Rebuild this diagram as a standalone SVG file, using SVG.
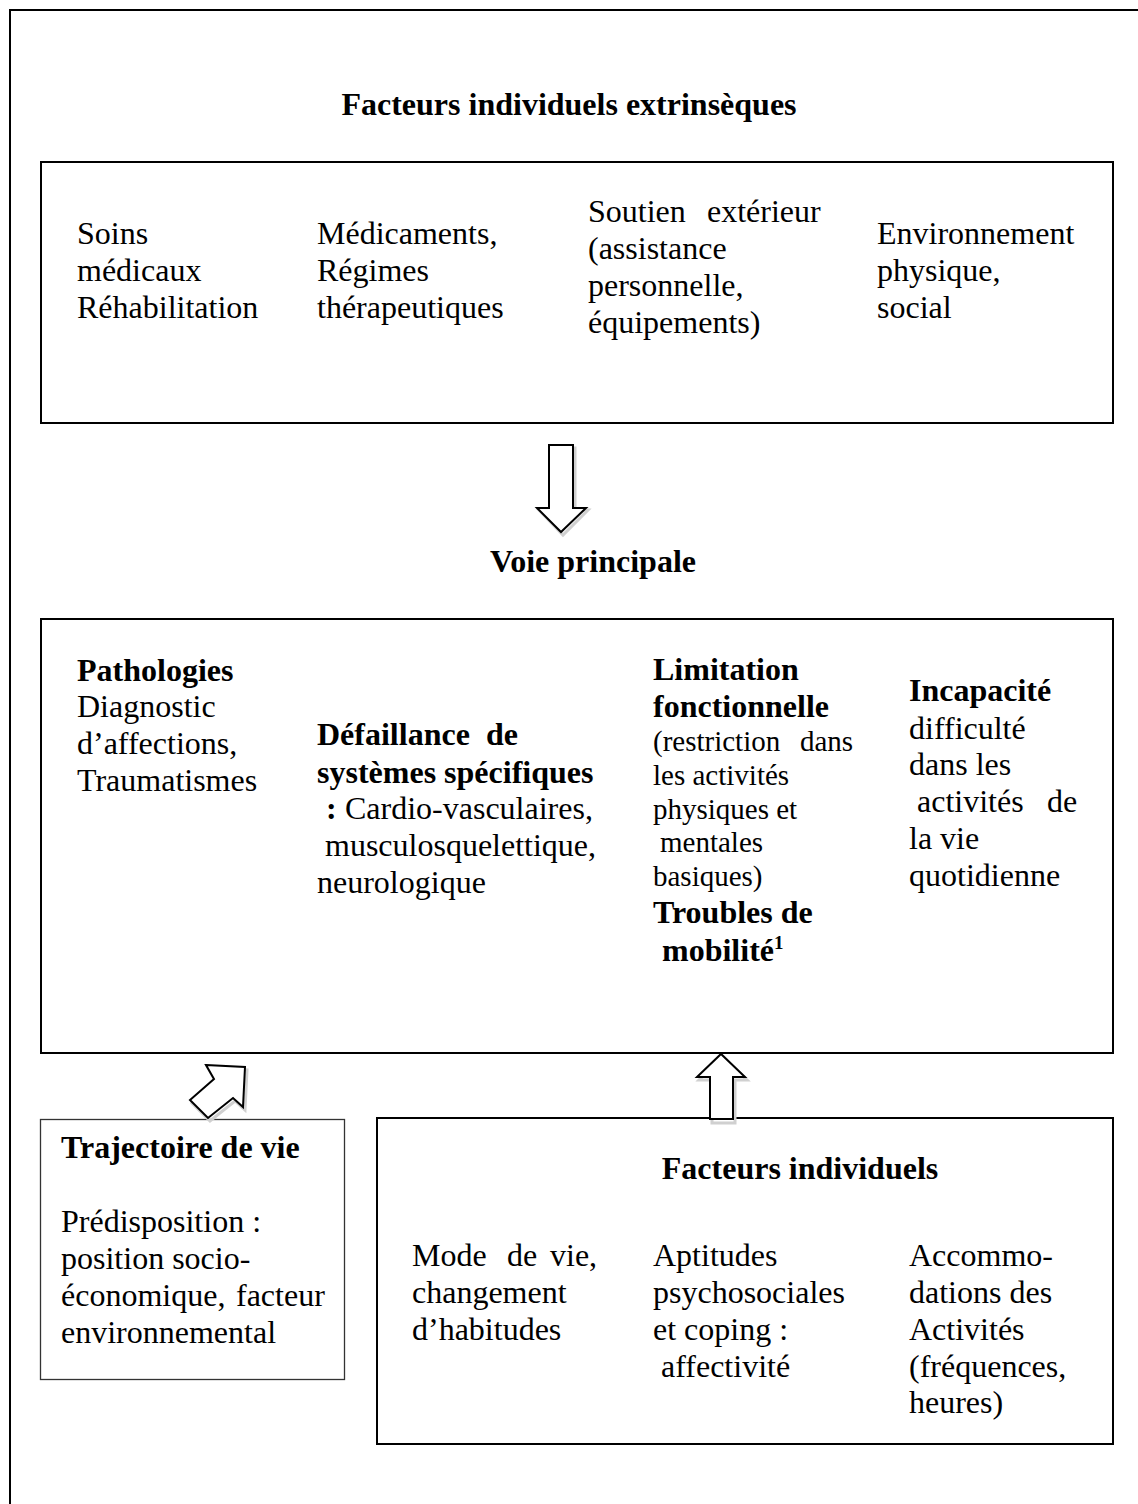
<svg xmlns="http://www.w3.org/2000/svg" width="1138" height="1504" viewBox="0 0 1138 1504">
<style>
.t{font-family:"Liberation Serif","Times New Roman",serif;font-size:32px;fill:#000}
.b{font-weight:bold}
.s{font-size:29px}
.box{fill:#fff;stroke:#000;stroke-width:2}
.thin{fill:#fff;stroke:#333;stroke-width:1.3}
.arrow{fill:#fff;stroke:#000;stroke-width:2;stroke-linejoin:miter}
.shadow{fill:none;stroke:#d0d0d0;stroke-width:3}
</style>
<rect width="1138" height="1504" fill="#fff"/>
<path d="M10,1504 V10 H1138" fill="none" stroke="#000" stroke-width="2"/>

<g id="title-extrinseques">
<text class="t b" x="569" y="115" text-anchor="middle">Facteurs individuels extrinsèques</text>
</g>

<g id="box-extrinseques">
<rect class="box" x="41" y="162" width="1072" height="261"/>
<text class="t" x="77" y="244">Soins</text>
<text class="t" x="77" y="281">médicaux</text>
<text class="t" x="77" y="318">Réhabilitation</text>
<text class="t" x="317" y="244">Médicaments,</text>
<text class="t" x="317" y="281">Régimes</text>
<text class="t" x="317" y="318">thérapeutiques</text>
<text class="t" x="588" y="222">Soutien<tspan x="707">extérieur</tspan></text>
<text class="t" x="588" y="259">(assistance</text>
<text class="t" x="588" y="296">personnelle,</text>
<text class="t" x="588" y="333">équipements)</text>
<text class="t" x="877" y="244">Environnement</text>
<text class="t" x="877" y="281">physique,</text>
<text class="t" x="877" y="318">social</text>
</g>

<g id="title-voie">
<text class="t b" x="593" y="572" text-anchor="middle">Voie principale</text>
</g>

<g id="box-voie">
<rect class="box" x="41" y="619" width="1072" height="434"/>
<text class="t b" x="77" y="681">Pathologies</text>
<text class="t" x="77" y="717">Diagnostic</text>
<text class="t" x="77" y="754">d’affections,</text>
<text class="t" x="77" y="791">Traumatismes</text>
<text class="t b" x="317" y="745">Défaillance<tspan x="486">de</tspan></text>
<text class="t b" x="317" y="783">systèmes spécifiques</text>
<text class="t" x="326" y="819"><tspan class="b">:</tspan><tspan x="345">Cardio-vasculaires,</tspan></text>
<text class="t" x="325" y="856">musculosquelettique,</text>
<text class="t" x="317" y="893">neurologique</text>
<text class="t b" x="653" y="680">Limitation</text>
<text class="t b" x="653" y="717">fonctionnelle</text>
<text class="t s" x="653" y="751">(restriction<tspan x="800">dans</tspan></text>
<text class="t s" x="653" y="785">les activités</text>
<text class="t s" x="653" y="819">physiques et</text>
<text class="t s" x="660" y="852">mentales</text>
<text class="t s" x="653" y="886">basiques)</text>
<text class="t b" x="653" y="923">Troubles de</text>
<text class="t b" x="662" y="961">mobilité<tspan font-size="19" dy="-12">1</tspan></text>
<text class="t b" x="909" y="701">Incapacité</text>
<text class="t" x="909" y="739">difficulté</text>
<text class="t" x="909" y="775">dans les</text>
<text class="t" x="917" y="812">activités<tspan x="1047">de</tspan></text>
<text class="t" x="909" y="849">la vie</text>
<text class="t" x="909" y="886">quotidienne</text>
</g>

<g id="box-trajectoire">
<rect class="thin" x="40.5" y="1119.5" width="304" height="260"/>
<text class="t b" x="61" y="1158">Trajectoire de vie</text>
<text class="t" x="61" y="1232">Prédisposition :</text>
<text class="t" x="61" y="1269">position socio-</text>
<text class="t" x="61" y="1306">économique,<tspan x="236">facteur</tspan></text>
<text class="t" x="61" y="1343">environnemental</text>
</g>

<g id="box-individuels">
<rect class="box" x="377" y="1118" width="736" height="326"/>
<text class="t b" x="800" y="1179" text-anchor="middle">Facteurs individuels</text>
<text class="t" x="412" y="1266">Mode<tspan x="507">de</tspan><tspan x="550">vie,</tspan></text>
<text class="t" x="412" y="1303">changement</text>
<text class="t" x="412" y="1340">d’habitudes</text>
<text class="t" x="653" y="1266">Aptitudes</text>
<text class="t" x="653" y="1303">psychosociales</text>
<text class="t" x="653" y="1340">et coping :</text>
<text class="t" x="661" y="1377">affectivité</text>
<text class="t" x="909" y="1266">Accommo-</text>
<text class="t" x="909" y="1303">dations des</text>
<text class="t" x="909" y="1340">Activités</text>
<text class="t" x="909" y="1377">(fréquences,</text>
<text class="t" x="909" y="1413">heures)</text>
</g>

<g id="connectors">
<path class="shadow" d="M551,448 H575 V510 H588 L563,535 L539,510 H551 Z"/>
<path class="arrow" d="M549,445 H573 V508 H586 L561,532 L537,508 H549 Z"/>
<path class="shadow" d="M712,1080 L699,1080 L722,1057 L747,1080 L735,1080 V1123 H712 Z"/>
<path class="arrow" d="M710,1077 L697,1077 L721,1054 L745,1077 L733,1077 V1119 H710 Z"/>
<path class="shadow" d="M208,1068 L247,1070 L245,1110 L235,1101 L210,1121 L192,1103 L216,1082 Z"/>
<path class="arrow" d="M206,1065 L245,1067 L243,1107 L233,1098 L208,1118 L190,1100 L214,1079 Z"/>
</g>
</svg>
